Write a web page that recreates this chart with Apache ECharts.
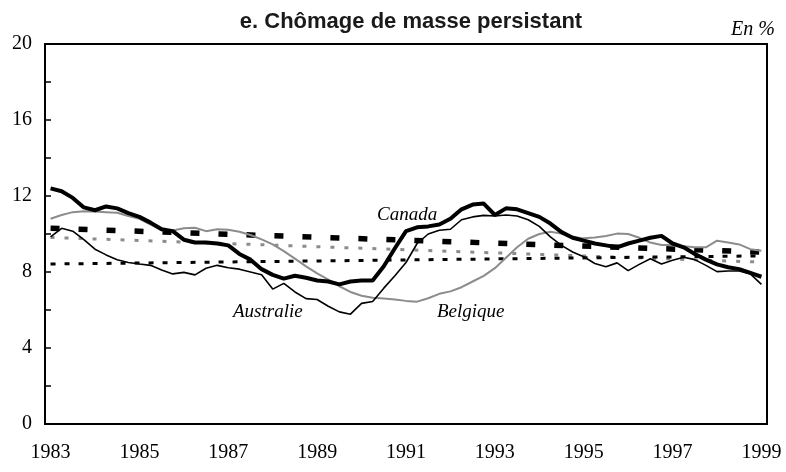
<!DOCTYPE html>
<html lang="fr">

<head>
    <meta charset="UTF-8">
    <title>Chômage de masse persistant</title>
    <script src="https://cdn.jsdelivr.net/npm/echarts@6/dist/echarts.min.js"></script>
    <style>
        html, body {
            margin: 0;
            padding: 0;
            background: #fff;
        }

        #chart {
            width: 786px;
            height: 472px;
        }
    </style>
</head>

<body>
    <div id="chart"></div>
    <script>
        // trimestres 1983T1 .. 1999T1
        var quarters = [];
        for (var y = 1983; y <= 1999; y++) {
            for (var q = 1; q <= 4; q++) {
                if (y === 1999 && q > 1) break;
                quarters.push(y + 'T' + q);
            }
        }

        var yTicks = [0, 4, 8, 12, 16, 20];

        // taux de chômage, en %
        var canada = [12.4, 12.25, 11.9, 11.4, 11.25, 11.45, 11.35, 11.1, 10.9, 10.6,
            10.25, 10.15, 9.7, 9.55, 9.55, 9.5, 9.4, 8.95, 8.65, 8.15,
            7.85, 7.65, 7.8, 7.7, 7.55, 7.5, 7.35, 7.5, 7.55, 7.55,
            8.3, 9.25, 10.15, 10.35, 10.4, 10.5, 10.8, 11.3, 11.55, 11.6,
            11.0, 11.35, 11.3, 11.1, 10.9, 10.55, 10.1, 9.8, 9.65, 9.5,
            9.4, 9.3, 9.5, 9.65, 9.8, 9.9, 9.5, 9.3, 8.95, 8.65,
            8.4, 8.25, 8.15, 7.95, 7.75];
        var australie = [9.85, 10.3, 10.15, 9.7, 9.2, 8.9, 8.65, 8.5, 8.42, 8.35,
            8.1, 7.9, 7.98, 7.85, 8.2, 8.35, 8.22, 8.15, 8.0, 7.85,
            7.1, 7.4, 6.95, 6.6, 6.55, 6.2, 5.9, 5.78, 6.35, 6.45,
            7.15, 7.8, 8.5, 9.5, 10.0, 10.2, 10.25, 10.75, 10.9, 10.98,
            10.95, 11.0, 10.95, 10.75, 10.4, 9.85, 9.4, 9.05, 8.8, 8.45,
            8.28, 8.48, 8.07, 8.4, 8.7, 8.42, 8.62, 8.78, 8.65, 8.35,
            8.02, 8.05, 8.05, 7.9, 7.35];
        var belgique = [10.8, 11.0, 11.15, 11.2, 11.18, 11.15, 11.12, 10.95, 10.8, 10.5,
            10.2, 10.18, 10.3, 10.33, 10.15, 10.25, 10.22, 10.12, 9.95, 9.72,
            9.45, 9.1, 8.7, 8.3, 7.93, 7.6, 7.25, 6.95, 6.75, 6.65,
            6.6, 6.55, 6.48, 6.44, 6.62, 6.85, 6.98, 7.2, 7.5, 7.8,
            8.2, 8.75, 9.3, 9.75, 10.0, 10.12, 10.02, 9.85, 9.77, 9.82,
            9.9, 10.02, 10.0, 9.8, 9.55, 9.42, 9.42, 9.35, 9.3, 9.3,
            9.65, 9.55, 9.45, 9.2, 9.12];

        // tendances linéaires : valeur en 1983T1 et en 1999T1
        var tendCanada = [10.3, 9.05];
        var tendAustralie = [8.42, 8.85];
        var tendBelgique = [9.82, 8.52];

        function tendance(v) {
            return [[0, v[0]], [quarters.length - 1, v[1]]];
        }

        var serif = '"Liberation Serif", "DejaVu Serif", serif';

        var myChart = echarts.init(document.getElementById('chart'));
        var option = {
            animation: false,
            title: {
                text: 'e. Chômage de masse persistant',
                left: 406,
                top: 6,
                textAlign: 'center',
                textStyle: {
                    fontFamily: '"Liberation Sans", Arial, sans-serif',
                    fontWeight: 'bold',
                    fontSize: 22,
                    color: '#1a1a1a'
                }
            },
            grid: {
                left: 45,
                right: 19,
                top: 44,
                bottom: 48,
                show: true,
                borderColor: '#000',
                borderWidth: 2
            },
            xAxis: {
                type: 'category',
                data: quarters,
                boundaryGap: true,
                axisLine: { lineStyle: { color: '#000', width: 2 } },
                axisTick: {
                    inside: true,
                    interval: 1,
                    length: 5,
                    lineStyle: { color: '#000', width: 1.5 }
                },
                axisLabel: {
                    interval: 7,
                    margin: 19,
                    fontFamily: serif,
                    fontSize: 20,
                    color: '#000',
                    formatter: function (v) { return v.slice(0, 4); }
                },
                splitLine: { show: false }
            },
            yAxis: {
                type: 'value',
                min: 0,
                max: 20,
                interval: 2,
                axisLine: { show: true, lineStyle: { color: '#000', width: 2 } },
                axisTick: {
                    show: true,
                    inside: true,
                    length: 6,
                    lineStyle: { color: '#000', width: 1.5 }
                },
                axisLabel: {
                    margin: 13,
                    fontFamily: serif,
                    fontSize: 20,
                    color: '#000',
                    formatter: function (v) {
                        return yTicks.indexOf(v) >= 0 ? String(v) : '';
                    }
                },
                splitLine: { show: false }
            },
            series: [
                {
                    name: 'Belgique tendance',
                    type: 'line',
                    data: tendance(tendBelgique),
                    symbol: 'none',
                    lineStyle: { color: '#8c8c8c', width: 3, type: [4, 10] }
                },
                {
                    name: 'Australie tendance',
                    type: 'line',
                    data: tendance(tendAustralie),
                    symbol: 'none',
                    lineStyle: { color: '#000', width: 3, type: [5, 9] }
                },
                {
                    name: 'Canada tendance',
                    type: 'line',
                    data: tendance(tendCanada),
                    symbol: 'none',
                    lineStyle: { color: '#000', width: 5.5, type: [9, 19] }
                },
                {
                    name: 'Belgique',
                    type: 'line',
                    data: belgique,
                    symbol: 'none',
                    lineStyle: { color: '#8c8c8c', width: 2 }
                },
                {
                    name: 'Australie',
                    type: 'line',
                    data: australie,
                    symbol: 'none',
                    lineStyle: { color: '#000', width: 1.6 }
                },
                {
                    name: 'Canada',
                    type: 'line',
                    data: canada,
                    symbol: 'none',
                    lineStyle: { color: '#000', width: 4 }
                }
            ],
            graphic: [
                {
                    type: 'text', right: 11, top: 20,
                    style: { text: 'En %', font: 'italic 20px ' + serif, fill: '#000' }
                },
                {
                    type: 'text', left: 377, top: 205,
                    style: { text: 'Canada', font: 'italic 19px ' + serif, fill: '#000' }
                },
                {
                    type: 'text', left: 233, top: 302,
                    style: { text: 'Australie', font: 'italic 19px ' + serif, fill: '#000' }
                },
                {
                    type: 'text', left: 437, top: 302,
                    style: { text: 'Belgique', font: 'italic 19px ' + serif, fill: '#000' }
                }
            ]
        };
        myChart.setOption(option);
    </script>
</body>

</html>
